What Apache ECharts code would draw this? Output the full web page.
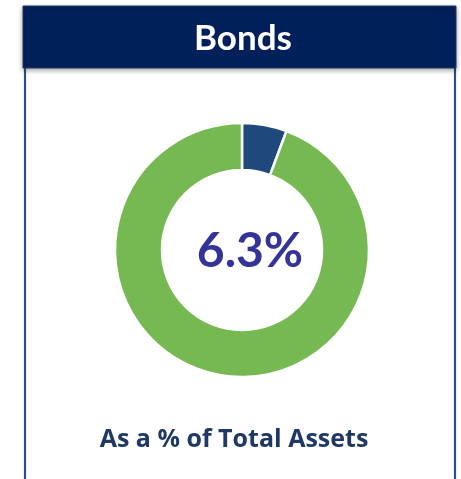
<!DOCTYPE html>
<html>
<head>
<meta charset="utf-8">
<script src="https://cdn.jsdelivr.net/npm/echarts@6/dist/echarts.min.js"></script>
<style>
  html, body { margin: 0; padding: 0; background: #fff; }
  #chart { width: 461px; height: 479px; }
</style>
</head>
<body>
<div id="chart"></div>
<script>
// data
const sliceNames = ['Bonds', 'Other']
const sliceValues = [5.7, 94.3]
const sliceColors = ['#1f497d', '#76b852']
const headerText = 'Bonds'
const centerText = '6.3%'
const footerText = 'As a % of Total Assets'

const chart = echarts.init(document.getElementById('chart'))

const option = {
  animation: false,
  title: [
    {
      text: headerText,
      left: 238,
      top: 16,
      textAlign: 'center',
      textStyle: { color: '#ffffff', fontSize: 35, fontWeight: 'bold', fontFamily: 'Lato' }
    },
    {
      text: centerText,
      left: 245,
      top: 223,
      textAlign: 'center',
      textStyle: { color: '#333399', fontSize: 48, fontWeight: 'bold', fontFamily: 'Lato' }
    },
    {
      text: footerText,
      left: 229,
      top: 422,
      textAlign: 'center',
      textStyle: { color: '#1f3864', fontSize: 25, fontWeight: 'bold', fontFamily: 'Open Sans' }
    }
  ],
  graphic: [
    // box borders
    {
      type: 'line',
      shape: { x1: 25, y1: 60, x2: 25, y2: 479 },
      style: { stroke: '#2e4d80', lineWidth: 2, shadowColor: 'rgba(0,0,0,0.25)', shadowBlur: 2 },
      z: 1
    },
    {
      type: 'line',
      shape: { x1: 455, y1: 60, x2: 455, y2: 479 },
      style: { stroke: '#2e4d80', lineWidth: 2, shadowColor: 'rgba(0,0,0,0.25)', shadowBlur: 2 },
      z: 1
    },
    // header bar
    {
      type: 'rect',
      shape: { x: 23, y: 6, width: 433, height: 62 },
      style: { fill: '#00205b', stroke: '#23385f', lineWidth: 1, shadowColor: 'rgba(0,0,0,0.35)', shadowBlur: 5, shadowOffsetY: 2 },
      z: 2
    }
  ],
  series: [
    {
      type: 'pie',
      radius: [80, 127],
      center: [242, 250],
      startAngle: 90,
      clockwise: true,
      label: { show: false },
      labelLine: { show: false },
      emphasis: { disabled: true },
      itemStyle: { borderColor: '#ffffff', borderWidth: 2.5 },
      data: sliceNames.map((name, i) => ({
        name: name,
        value: sliceValues[i],
        itemStyle: { color: sliceColors[i] }
      }))
    }
  ]
}

chart.setOption(option)
</script>
</body>
</html>
